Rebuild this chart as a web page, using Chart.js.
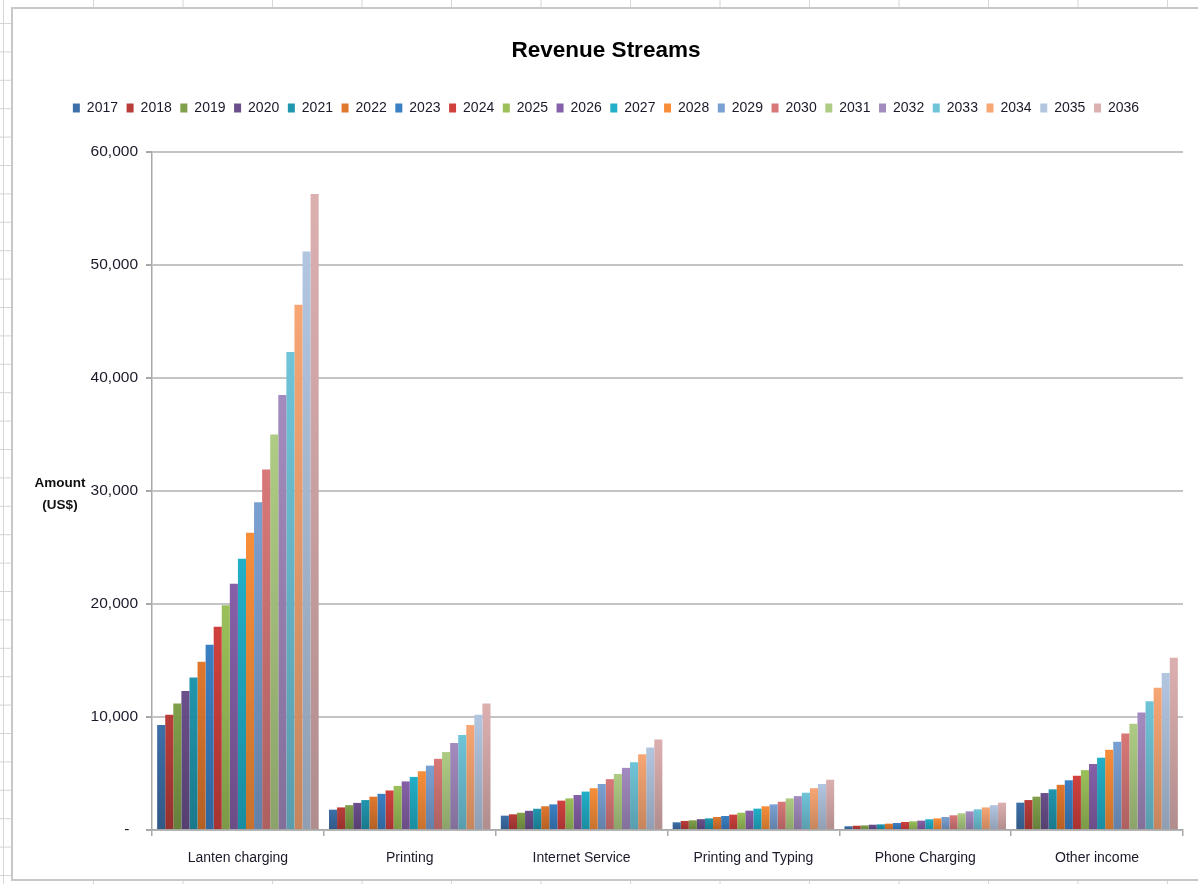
<!DOCTYPE html>
<html>
<head>
<meta charset="utf-8">
<title>Revenue Streams</title>
<script src="https://cdn.jsdelivr.net/npm/chart.js@4.4.1/dist/chart.umd.min.js"></script>
<style>
  html, body { margin: 0; padding: 0; background: #ffffff; }
  #wrap { width: 1198px; height: 884px; position: relative; }
  canvas { display: block; }
</style>
</head>
<body>
<div id="wrap"><canvas id="revenueChart" width="1198" height="884"></canvas></div>
<script>
// Revenue streams, one value per year (US$)
const categories = ['Lanten charging', 'Printing', 'Internet Service', 'Printing and Typing', 'Phone Charging', 'Other income'];
const years = ['2017', '2018', '2019', '2020', '2021', '2022', '2023', '2024', '2025', '2026',
               '2027', '2028', '2029', '2030', '2031', '2032', '2033', '2034', '2035', '2036'];

const lantenCharging  = [9300, 10200, 11200, 12300, 13500, 14900, 16400, 18000, 19900, 21800,
                         24000, 26300, 29000, 31900, 35000, 38500, 42300, 46500, 51200, 56300];
const printing        = [1800, 2000, 2200, 2400, 2650, 2950, 3200, 3500, 3900, 4300,
                         4700, 5200, 5700, 6300, 6900, 7700, 8400, 9300, 10200, 11200];
const internetService = [1270, 1390, 1530, 1700, 1880, 2100, 2270, 2600, 2800, 3100,
                         3400, 3700, 4070, 4500, 4960, 5500, 6000, 6700, 7300, 8000];
const printingTyping  = [680, 800, 860, 960, 1030, 1150, 1240, 1360, 1530, 1710,
                         1890, 2100, 2270, 2500, 2800, 3000, 3300, 3700, 4070, 4450];
const phoneCharging   = [330, 380, 410, 470, 500, 560, 620, 710, 770, 830,
                         950, 1030, 1150, 1300, 1480, 1650, 1830, 2000, 2200, 2420];
const otherIncome     = [2420, 2650, 2950, 3270, 3600, 4000, 4400, 4800, 5300, 5840,
                         6400, 7100, 7800, 8550, 9400, 10400, 11400, 12600, 13900, 15250];

const yTickValues = [0, 10000, 20000, 30000, 40000, 50000, 60000];

const yearColors = ['#3d6fa8', '#b93d3a', '#80a04b', '#6a4f8c', '#2196ae', '#e0782e',
                    '#3b80c4', '#d0413e', '#9bc05a', '#8660a8', '#22afc8', '#f88e3a',
                    '#7aa0d2', '#d87878', '#aecc84', '#a38bbf', '#6fc4d8', '#f7a674',
                    '#b3c6e0', '#ddb0b0'];

const streams = [lantenCharging, printing, internetService, printingTyping, phoneCharging, otherIncome];

const FONT = "'Liberation Sans', Arial, Helvetica, sans-serif";

function shade(hex, f) {
  const n = parseInt(hex.slice(1), 16);
  const r = Math.round(((n >> 16) & 255) * f);
  const g = Math.round(((n >> 8) & 255) * f);
  const b = Math.round((n & 255) * f);
  return `rgb(${r},${g},${b})`;
}

// Each bar fades from its colour at the top to a darker tone at the base
function barFill(color) {
  return (ctx) => {
    if (ctx.type !== 'data') return color;
    const chart = ctx.chart;
    const y = chart.scales.y;
    if (!y || !chart.chartArea) return color;
    const top = y.getPixelForValue(ctx.raw);
    const base = y.getPixelForValue(0);
    if (!isFinite(top) || !isFinite(base) || base - top < 1) return color;
    const g = chart.ctx.createLinearGradient(0, top, 0, base);
    g.addColorStop(0, color);
    g.addColorStop(1, shade(color, 0.8));
    return g;
  };
}

const datasets = years.map((yr, i) => ({
  label: yr,
  data: streams.map(s => s[i]),
  backgroundColor: barFill(yearColors[i]),
  borderWidth: 0,
  categoryPercentage: 0.94,
  barPercentage: 1.0
}));

// Worksheet frame around the chart object
const sheetFrame = {
  id: 'sheetFrame',
  beforeDraw(chart) {
    const c = chart.ctx;
    const W = chart.width, H = chart.height;
    c.save();
    c.fillStyle = '#ffffff';
    c.fillRect(0, 0, W, H);
    c.strokeStyle = '#d6d6d6';
    c.lineWidth = 1;
    // row lines on the left margin
    c.beginPath();
    c.moveTo(3.5, 0); c.lineTo(3.5, H);
    for (let y = 23.5; y < H; y += 28.4) { c.moveTo(0, y); c.lineTo(11, y); }
    // column lines above and below the frame
    for (let x = 93.5; x < W; x += 89.5) {
      c.moveTo(x, 0); c.lineTo(x, 8);
      c.moveTo(x, 880); c.lineTo(x, H);
    }
    c.stroke();
    // chart frame
    c.strokeStyle = '#c8c8c8';
    c.lineWidth = 2;
    c.beginPath();
    c.moveTo(W, 8); c.lineTo(12, 8); c.lineTo(12, 880); c.lineTo(W, 880);
    c.stroke();
    c.restore();
  },
  afterDraw(chart) {
    const c = chart.ctx;
    const area = chart.chartArea;
    const mid = (area.top + area.bottom) / 2 + 3;
    c.save();
    c.fillStyle = '#111111';
    c.font = `bold 13.5px ${FONT}`;
    c.textAlign = 'center';
    c.textBaseline = 'middle';
    c.fillText('Amount', 60, mid - 11);
    c.fillText('(US$)', 60, mid + 11);
    c.restore();
  }
};

Chart.defaults.font.family = FONT;
Chart.defaults.color = '#1a1a2a';

new Chart(document.getElementById('revenueChart'), {
  type: 'bar',
  data: { labels: categories, datasets },
  plugins: [sheetFrame],
  options: {
    responsive: false,
    animation: false,
    devicePixelRatio: 1,
    layout: { padding: { left: 29, right: 15, top: 0, bottom: 4 } },
    plugins: {
      title: {
        display: true,
        text: 'Revenue Streams',
        color: '#000000',
        font: { size: 22.5, weight: 'bold', family: FONT },
        padding: { top: 37.5, bottom: 28 }
      },
      subtitle: {
        display: true,
        text: ' ',
        weight: 500,
        font: { size: 10 },
        padding: { top: 15, bottom: 0 }
      },
      legend: {
        display: true,
        position: 'top',
        labels: {
          boxWidth: 7,
          boxHeight: 9,
          padding: 8.6,
          color: '#1a1a2a',
          font: { size: 14, family: FONT }
        }
      },
      tooltip: { enabled: false }
    },
    scales: {
      x: {
        afterFit: (s) => { s.height = 50; },
        grid: {
          display: true,
          drawOnChartArea: false,
          drawTicks: true,
          offset: true,
          tickLength: 6,
          color: '#a8a8a8',
          lineWidth: 1.5
        },
        border: { display: true, color: '#a8a8a8', width: 1.5 },
        ticks: {
          padding: 14,
          color: '#1a1a2a',
          font: { size: 14, family: FONT },
          maxRotation: 0,
          autoSkip: false
        }
      },
      y: {
        min: 0,
        max: 60000,
        afterFit: (s) => { s.width = 123; },
        afterBuildTicks: (s) => { s.ticks = yTickValues.map(v => ({ value: v })); },
        grid: {
          color: '#c4c4c4',
          lineWidth: 2,
          tickLength: 6,
          tickColor: '#a8a8a8',
          drawTicks: true
        },
        border: { display: true, color: '#a8a8a8', width: 1.5 },
        ticks: {
          padding: 8,
          color: '#1a1a2a',
          font: { size: 15.5, family: FONT },
          callback: (v) => v === 0 ? '-  ' : Number(v).toLocaleString('en-US')
        }
      }
    }
  }
});
</script>
</body>
</html>
